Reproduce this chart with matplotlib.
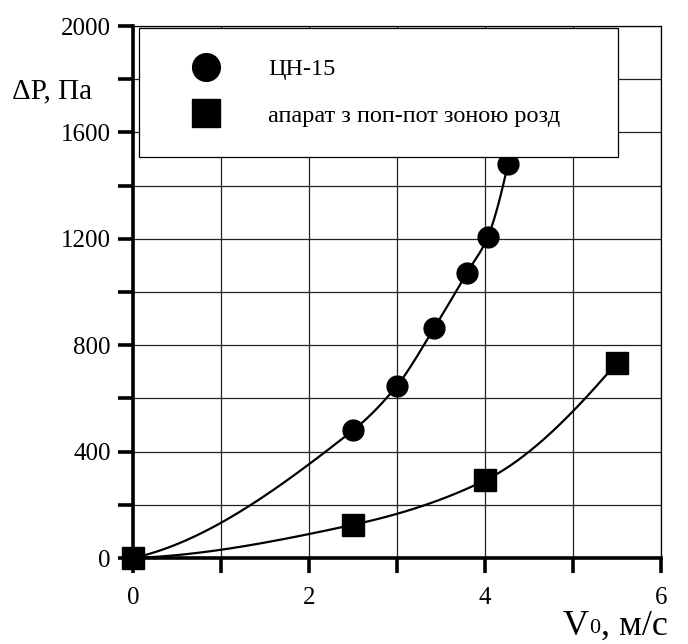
import numpy as np
import matplotlib.pyplot as plt
from matplotlib.ticker import MultipleLocator, FuncFormatter

plt.rcParams['font.family'] = ['Liberation Serif', 'DejaVu Serif']

# ---- data ----
cn_v  = [0.0, 2.5, 3.0, 3.42, 3.79, 4.03, 4.26]
cn_dp = [0, 480, 648, 863, 1070, 1206, 1480]
ap_v  = [0.0, 2.5, 4.0, 5.5]
ap_dp = [0, 125, 292, 735]
labels = ["ЦН-15", "апарат з поп-пот зоною розд"]


def pchip(x, y, xs):
    # monotone cubic through the measured points
    x = np.asarray(x, float); y = np.asarray(y, float)
    h = np.diff(x); d = np.diff(y) / h
    n = len(x); m = np.zeros(n)
    for k in range(1, n - 1):
        if d[k - 1] * d[k] > 0:
            w1 = 2 * h[k] + h[k - 1]; w2 = h[k] + 2 * h[k - 1]
            m[k] = (w1 + w2) / (w1 / d[k - 1] + w2 / d[k])
    m[0] = max(0, ((2 * h[0] + h[1]) * d[0] - h[0] * d[1]) / (h[0] + h[1]))
    m[-1] = max(0, ((2 * h[-1] + h[-2]) * d[-1] - h[-1] * d[-2]) / (h[-1] + h[-2]))
    idx = np.clip(np.searchsorted(x, xs) - 1, 0, n - 2)
    t = (xs - x[idx]) / h[idx]
    h00 = 2 * t**3 - 3 * t**2 + 1; h10 = t**3 - 2 * t**2 + t
    h01 = -2 * t**3 + 3 * t**2; h11 = t**3 - t**2
    return h00 * y[idx] + h10 * h[idx] * m[idx] + h01 * y[idx + 1] + h11 * h[idx] * m[idx + 1]


fig = plt.figure(figsize=(6.88, 6.44), dpi=100)
ax = fig.add_axes([0.1933, 0.1335, 0.7675, 0.8261])

xs1 = np.linspace(cn_v[0], cn_v[-1], 300)
xs2 = np.linspace(ap_v[0], ap_v[-1], 300)
ax.plot(xs1, pchip(cn_v, cn_dp, xs1), color='black', lw=1.6, zorder=3)
ax.plot(xs2, pchip(ap_v, ap_dp, xs2), color='black', lw=1.6, zorder=3)
# origin belongs to both curves, only the square marker is drawn there
ax.plot(cn_v, cn_dp, 'o', color='black', ms=15, ls='none', markevery=slice(1, None),
        label=labels[0], zorder=4, clip_on=False)
ax.plot(ap_v, ap_dp, 's', color='black', ms=15.5, ls='none',
        label=labels[1], zorder=4, clip_on=False)

ax.set_xlim(0, 6)
ax.set_ylim(0, 2000)
ax.xaxis.set_major_locator(MultipleLocator(1))
ax.yaxis.set_major_locator(MultipleLocator(200))
ax.xaxis.set_major_formatter(FuncFormatter(lambda v, p: f"{v:.0f}" if round(v) % 2 == 0 else ""))
ax.yaxis.set_major_formatter(FuncFormatter(lambda v, p: f"{v:.0f}" if round(v) % 400 == 0 else ""))
ax.tick_params(direction='out', length=11, width=2.6, labelsize=18)
ax.tick_params(axis='x', pad=10)
ax.tick_params(axis='y', pad=5)
ax.grid(True, color='#222222', lw=0.9)
ax.set_axisbelow(True)
for s in ['left', 'bottom']:
    ax.spines[s].set_linewidth(2.6)
for s in ['top', 'right']:
    ax.spines[s].set_linewidth(0.9)

# axis captions placed like in the source figure
ax.text(-0.23, 0.878, "ΔP, Па", transform=ax.transAxes, fontsize=21,
        ha='left', va='center')
tv = ax.text(0.814, -0.144, "V", transform=ax.transAxes, fontsize=26,
             ha='left', va='baseline')
t0 = ax.annotate("0", xy=(1, 0), xycoords=tv, xytext=(0.5, 3.0),
                 textcoords='offset points', fontsize=16, ha='left', va='bottom')
ax.annotate(", м/с", xy=(1, 0), xycoords=(t0, tv), xytext=(0, 0),
            textcoords='offset points', fontsize=26, ha='left', va='bottom')

leg = ax.legend(loc='upper left', bbox_to_anchor=(0.0114, 0.5, 0.907, 0.4962),
                mode='expand', fontsize=17.5,
                markerscale=1.33, handlelength=3.0, handletextpad=1.05,
                borderpad=1.25, labelspacing=1.0, fancybox=False, framealpha=1,
                edgecolor='black', borderaxespad=0)
leg.get_frame().set_linewidth(0.9)

fig.savefig("out.png", dpi=100)
